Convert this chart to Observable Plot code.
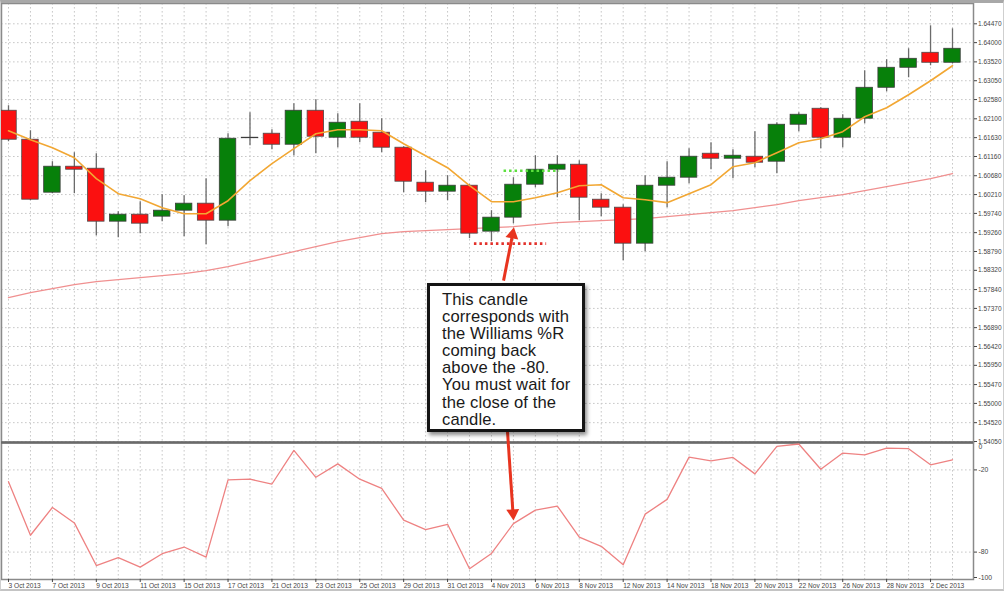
<!DOCTYPE html>
<html>
<head>
<meta charset="utf-8">
<script src="https://cdn.jsdelivr.net/npm/d3@7"></script>
<script src="https://cdn.jsdelivr.net/npm/@observablehq/plot@0.6"></script>
<style>
html, body { margin: 0; padding: 0; background: #fff; }
#wrap { position: relative; width: 1004px; height: 591px; overflow: hidden; background: #fff; }
#note {
  position: absolute; left: 427px; top: 283px; width: 158px; height: 149px;
  box-sizing: border-box; border: 3px solid #141414; background: #fff;
  box-shadow: 2px 3px 4px rgba(0,0,0,0.45);
  font-family: "Liberation Sans", Arial, sans-serif; font-size: 16.6px; line-height: 17.1px;
  color: #1a1a1a; padding: 5px 0 0 12px; white-space: nowrap; letter-spacing: 0.1px;
}
#edge {
  position: absolute; left: 0; top: 0; width: 1004px; height: 591px; box-sizing: border-box;
  border-top: 3px solid #a8a8a8; border-left: 1px solid #cfcfcf; border-right: 1px solid #cfcfcf;
  border-bottom: 2px solid #c4c4c4; pointer-events: none;
}
</style>
</head>
<body>
<div id="wrap"><div id="note"></div><div id="edge"></div></div>
<script>
// ---- data ----
const dates = ["3 Oct 2013","4 Oct 2013","7 Oct 2013","8 Oct 2013","9 Oct 2013","10 Oct 2013","11 Oct 2013",
  "14 Oct 2013","15 Oct 2013","16 Oct 2013","17 Oct 2013","18 Oct 2013","21 Oct 2013","22 Oct 2013",
  "23 Oct 2013","24 Oct 2013","25 Oct 2013","28 Oct 2013","29 Oct 2013","30 Oct 2013","31 Oct 2013",
  "1 Nov 2013","4 Nov 2013","5 Nov 2013","6 Nov 2013","7 Nov 2013","8 Nov 2013","11 Nov 2013",
  "12 Nov 2013","13 Nov 2013","14 Nov 2013","15 Nov 2013","18 Nov 2013","19 Nov 2013","20 Nov 2013",
  "21 Nov 2013","22 Nov 2013","25 Nov 2013","26 Nov 2013","27 Nov 2013","28 Nov 2013","29 Nov 2013",
  "2 Dec 2013","3 Dec 2013"];
const open = [1.62301,1.61578,1.60257,1.60905,1.60855,1.59534,1.59708,1.59659,1.59808,1.59983,
  1.59559,1.61616,1.61728,1.61453,1.62301,1.61628,1.62027,1.61753,1.61379,1.60506,
  1.60282,1.60431,1.59285,1.59634,1.60456,1.60830,1.60955,1.60082,1.59883,1.58985,
  1.60431,1.60631,1.61229,1.61104,1.61154,1.61030,1.61952,1.62351,1.61628,1.62102,
  1.62874,1.63373,1.63747,1.63498];
const high = [1.62426,1.61802,1.61030,1.61254,1.61229,1.59783,1.60032,1.60207,1.60182,1.60606,
  1.61728,1.62251,1.61827,1.62476,1.62575,1.62226,1.62476,1.62102,1.61404,1.60805,
  1.60681,1.60456,1.59808,1.60631,1.61179,1.61179,1.61055,1.60232,1.59958,1.60681,
  1.61030,1.61354,1.61503,1.61329,1.61778,1.62002,1.62251,1.62376,1.62201,1.63298,
  1.63573,1.63847,1.64420,1.64345];
const low = [1.61528,1.60057,1.60230,1.60232,1.59185,1.59135,1.59235,1.59534,1.59160,1.58960,
  1.59409,1.61429,1.61329,1.61179,1.61229,1.61379,1.61503,1.61254,1.60257,1.60008,
  1.60057,1.59110,1.59035,1.59484,1.60381,1.60132,1.59559,1.59659,1.58562,1.58786,
  1.59883,1.60481,1.60830,1.60606,1.60880,1.60730,1.61778,1.61354,1.61379,1.61977,
  1.62775,1.63124,1.63423,1.63473];
const close = [1.61578,1.60082,1.60905,1.60830,1.59534,1.59708,1.59484,1.59808,1.59983,1.59559,
  1.61603,1.61628,1.61453,1.62301,1.61653,1.62002,1.61628,1.61379,1.60531,1.60282,
  1.60431,1.59235,1.59634,1.60456,1.60830,1.60955,1.60132,1.59883,1.58985,1.60431,
  1.60631,1.61154,1.61104,1.61179,1.61005,1.61952,1.62201,1.61628,1.62102,1.62874,
  1.63373,1.63597,1.63498,1.63847];
const maFast = [1.61802,1.61578,1.61379,1.61129,1.60606,1.60232,1.60107,1.59883,1.59733,1.59733,
  1.60057,1.60556,1.60980,1.61354,1.61728,1.61827,1.61827,1.61802,1.61478,1.61179,
  1.60880,1.60431,1.60032,1.60032,1.60132,1.60257,1.60431,1.60456,1.60132,1.60082,
  1.60008,1.60232,1.60456,1.60905,1.61005,1.61254,1.61503,1.61603,1.61778,1.62152,
  1.62376,1.62700,1.63049,1.63423];
const maSlow = [1.57639,1.57764,1.57864,1.57963,1.58038,1.58088,1.58138,1.58188,1.58237,1.58312,
  1.58412,1.58537,1.58661,1.58786,1.58911,1.59035,1.59135,1.59235,1.59285,1.59310,
  1.59335,1.59360,1.59385,1.59410,1.59459,1.59509,1.59534,1.59559,1.59584,1.59609,
  1.59659,1.59708,1.59758,1.59808,1.59883,1.59958,1.60057,1.60132,1.60207,1.60307,
  1.60406,1.60506,1.60606,1.60730];
const williamsR = [-28.6,-67.7,-47.4,-58.7,-89.8,-84.1,-91.0,-81.2,-76.3,-83.7,
  -27.3,-26.8,-30.3,-5.8,-25.4,-15.6,-26.8,-33.5,-56.7,-63.6,
  -59.7,-92.2,-81.0,-59.2,-49.4,-46.4,-69.0,-75.8,-89.3,-52.3,
  -41.5,-10.7,-13.4,-10.9,-22.9,-2.8,-1.1,-19.5,-7.7,-9.0,
  -4.1,-4.5,-16.3,-12.6];
const priceTicks = [1.64470,1.64000,1.63520,1.63050,1.62580,1.62100,1.61630,1.61160,1.60680,1.60210,
  1.59740,1.59260,1.58790,1.58320,1.57840,1.57370,1.56890,1.56420,1.55950,1.55470,
  1.55000,1.54520,1.54050];
const wprTicks = [0, -20, -80, -100];
const dateTickLabels = ["3 Oct 2013","7 Oct 2013","9 Oct 2013","11 Oct 2013","15 Oct 2013","17 Oct 2013",
  "21 Oct 2013","23 Oct 2013","25 Oct 2013","29 Oct 2013","31 Oct 2013","4 Nov 2013","6 Nov 2013",
  "8 Nov 2013","12 Nov 2013","14 Nov 2013","18 Nov 2013","20 Nov 2013","22 Nov 2013","26 Nov 2013",
  "28 Nov 2013","2 Dec 2013"];
const noteLines = ["This candle","corresponds with","the Williams %R","coming back","above the -80.",
  "You must wait for","the close of the","candle."];
// annotation levels / arrows in data units (bar index, price or %R)
const levelLines = [
  {x1: 22.55, x2: 25.08, price: 1.60805, kind: "high"},
  {x1: 21.20, x2: 24.49, price: 1.58985, kind: "low"}
];
const arrowMain = [{x1: 22.55, y1: 1.58063, x2: 22.96, y2: 1.59210}];
const arrowWpr = [{x1: 22.73, y1: 7.9, x2: 22.98, y2: -51.5}];

// ---- build ----
const bars = dates.map((date, i) => ({
  i, date, open: open[i], high: high[i], low: low[i], close: close[i],
  maFast: maFast[i], maSlow: maSlow[i], wpr: williamsR[i]
}));
const xDomain = [0, bars.length - 1];
const xRange = [8, 952];
const tickIdx = bars.filter(d => dateTickLabels.includes(d.date)).map(d => d.i);
const grid = {stroke: "#c8c8c8", strokeDasharray: "1.6,2.4", strokeWidth: 1};
const font = "'Liberation Sans', Arial, sans-serif";
const svgStyle = {position: "absolute", left: "0px", top: "0px", background: "transparent",
  overflow: "visible", fontFamily: font, color: "#444"};
const halfW = 0.375;
const arrowColor = "#e8341f";

const main = Plot.plot({
  width: 1004, height: 591,
  marginTop: 3, marginBottom: 149, marginLeft: 1, marginRight: 31,
  x: {domain: xDomain, range: xRange, axis: null},
  y: {domain: [priceTicks[priceTicks.length - 1], priceTicks[0]], range: [441, 23.3]},
  style: svgStyle,
  marks: [
    Plot.ruleX(bars, {x: "i", ...grid}),
    Plot.ruleY(priceTicks, grid),
    Plot.frame({stroke: "#8a8a8a", strokeWidth: 1.5}),
    Plot.line(bars, {x: "i", y: "maSlow", stroke: "#f09090", strokeWidth: 1.3}),
    Plot.ruleX(bars, {x: "i", y1: "low", y2: "high", stroke: "#6b6b6b", strokeWidth: 1.3}),
    Plot.rect(bars.filter(d => d.close >= d.open), {
      x1: d => d.i - halfW, x2: d => d.i + halfW, y1: "open", y2: "close",
      fill: "#07800a", stroke: "#3c3c3c", strokeWidth: 0.8}),
    Plot.rect(bars.filter(d => d.close < d.open), {
      x1: d => d.i - halfW, x2: d => d.i + halfW, y1: "open", y2: "close",
      fill: "#fb1010", stroke: "#4a4a4a", strokeWidth: 0.8}),
    Plot.line(bars, {x: "i", y: "maFast", stroke: "#f2a733", strokeWidth: 1.6}),
    Plot.link(levelLines, {x1: "x1", x2: "x2", y1: "price", y2: "price",
      stroke: d => d.kind === "high" ? "#5ce03e" : "#e2302a", strokeWidth: 2.6, strokeDasharray: "2.5,3"}),
    Plot.link(arrowMain, {x1: "x1", y1: "y1", x2: "x2", y2: "y2", stroke: arrowColor, strokeWidth: 3}),
    Plot.dot(arrowMain, {x: "x2", y: "y2", symbol: "triangle", r: 4.8, fill: arrowColor, stroke: "none", rotate: 10.7}),
    Plot.axisY({ticks: priceTicks, anchor: "right", tickSize: 3, tickPadding: 1.5, fontSize: 6.5,
      tickFormat: d => d.toFixed(5)})
  ]
});

const lower = Plot.plot({
  width: 1004, height: 591,
  marginTop: 442, marginBottom: 12, marginLeft: 1, marginRight: 31,
  x: {domain: xDomain, range: xRange},
  y: {domain: [-100, 0]},
  style: svgStyle,
  marks: [
    Plot.ruleX(bars, {x: "i", ...grid}),
    Plot.ruleY(wprTicks.filter(v => v !== 0 && v !== -100), grid),
    Plot.frame({stroke: "#8a8a8a", strokeWidth: 1.5}),
    Plot.ruleY([0], {stroke: "#6a6a6a", strokeWidth: 2.4}),
    Plot.line(bars, {x: "i", y: "wpr", stroke: "#ee8282", strokeWidth: 1.3}),
    Plot.link(arrowWpr, {x1: "x1", y1: "y1", x2: "x2", y2: "y2", stroke: arrowColor, strokeWidth: 3}),
    Plot.dot(arrowWpr, {x: "x2", y: "y2", symbol: "triangle", r: 4.8, fill: arrowColor, stroke: "none", rotate: 176}),
    Plot.axisX({ticks: tickIdx, tickFormat: i => dates[i], anchor: "bottom", tickSize: 3, tickPadding: 1,
      textAnchor: "start", fontSize: 6.6}),
    Plot.axisY({ticks: wprTicks.filter(v => v === -20 || v === -80), anchor: "right", tickSize: 3, tickPadding: 2,
      fontSize: 6.8, tickFormat: d => `${d}`}),
    Plot.axisY({ticks: [0], anchor: "right", tickSize: 0, tickPadding: 5, fontSize: 6.8, dy: 4,
      tickFormat: d => `${d}`}),
    Plot.axisY({ticks: [-100], anchor: "right", tickSize: 3, tickPadding: 2, fontSize: 6.8, dy: -2,
      tickFormat: d => `${d}`})
  ]
});

const wrap = document.getElementById("wrap");
const note = document.getElementById("note");
note.innerHTML = noteLines.map(s => s.replace(/&/g, "&amp;").replace(/</g, "&lt;")).join("<br>");
wrap.insertBefore(main, note);
wrap.insertBefore(lower, note);
</script>
</body>
</html>
